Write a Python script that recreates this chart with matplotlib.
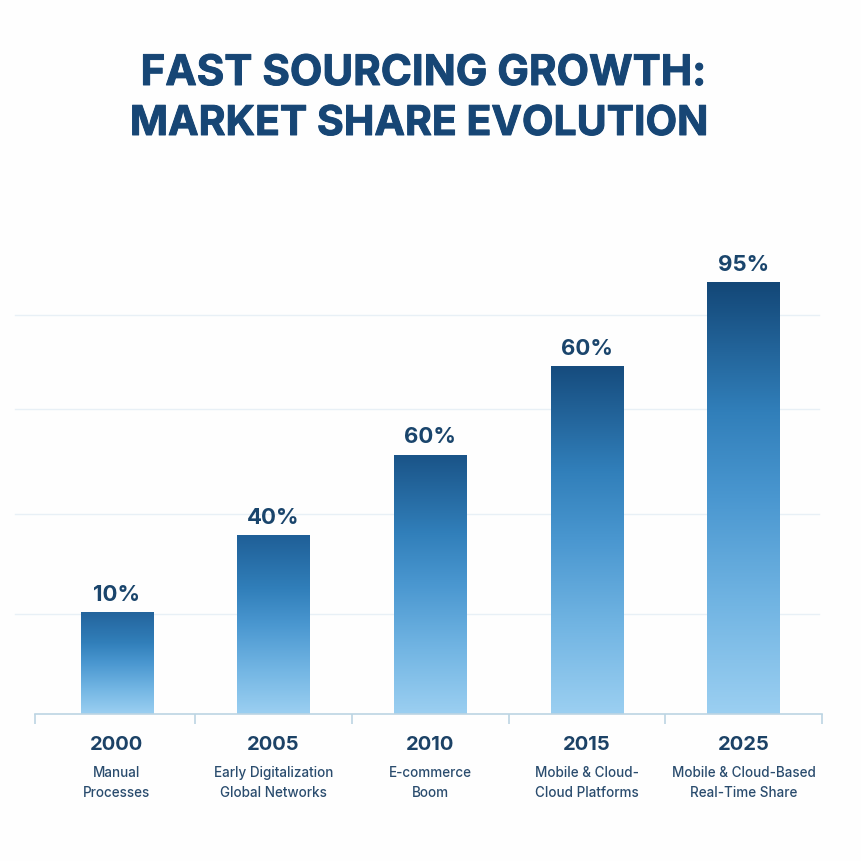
import matplotlib
matplotlib.use('Agg')
import matplotlib.pyplot as plt
import matplotlib.patheffects as pe
import numpy as np
from matplotlib.colors import LinearSegmentedColormap

plt.rcParams['font.family'] = ['Inter', 'DejaVu Sans']

years = ['2000', '2005', '2010', '2015', '2025']
share_labels = ['10%', '40%', '60%', '60%', '95%']
# drawn height of the bars, they do not follow the printed percentages
bar_heights = [22.2, 39.3, 56.9, 76.4, 94.8]
captions = ['Manual\nProcesses', 'Early Digitalization\nGlobal Networks', 'E-commerce\nBoom',
            'Mobile & Cloud-\nCloud Platforms', 'Mobile & Cloud-Based\nReal-Time Share']
top_colors = ['#24649c', '#1f5f97', '#1a5488', '#164c7e', '#134777']
grid_values = [22.0, 44.0, 67.0, 87.7]
separators = [-0.52, 0.5, 1.5, 2.5, 3.5, 4.5]

title_lines = ['FAST SOURCING GROWTH:', 'MARKET SHARE EVOLUTION']

fig = plt.figure(figsize=(8.62, 8.62), dpi=100, facecolor='#fefefe')
ax = fig.add_axes([35/862, (862-715)/862, 787/862, 455/862])
ax.set_facecolor('none')

x = np.arange(len(years))
width = 0.462

for val in grid_values:
    ax.plot([-0.65, 4.48], [val, val], color='#e8f0f6', lw=1, zorder=1, clip_on=False)

# vertical gradient for each bar
for xi, h, top, lab in zip(x, bar_heights, top_colors, share_labels):
    stops = [(0, '#9bcff1'), (0.25, '#72b5e3'), (0.5, '#4a97d0'), (0.7, '#317fba'), (1, top)]
    cmap = LinearSegmentedColormap.from_list('bar', stops, N=256)
    grad = np.linspace(1, 0, 256).reshape(-1, 1)
    ax.imshow(grad, extent=[xi-width/2, xi+width/2, 0, h], aspect='auto', cmap=cmap, vmin=0, vmax=1, zorder=2)
    ax.text(xi, h+1.9, lab, ha='center', va='bottom', fontsize=16, fontweight='bold', color='#1a456c')

ax.set_xlim(-0.523, 4.498)
ax.set_ylim(0, 100)
ax.set_yticks([])
ax.set_xticks(separators)
ax.set_xticklabels([])
ax.tick_params(axis='x', length=7.2, width=1.2, color='#bcd5e3')
for side in ['top', 'left', 'right']:
    ax.spines[side].set_visible(False)
ax.spines['bottom'].set_color('#bcd5e3')
ax.spines['bottom'].set_linewidth(1.2)

trans = ax.get_xaxis_transform()
for xi, year, cap in zip(x, years, captions):
    ax.annotate(year, (xi, 0), xytext=(0, -21.5), xycoords=trans, textcoords='offset points', ha='center', va='center',
                fontsize=14.5, fontweight='bold', color='#1c4266')
    ax.annotate(cap, (xi, 0), xytext=(0, -48.8), xycoords=trans, textcoords='offset points', ha='center', va='center',
                fontsize=9.7, fontweight='medium', color='#2a4c6e', linespacing=1.5)

# slight stroke because the title is heavier than Inter Bold
heavy = [pe.withStroke(linewidth=0.7, foreground='#174675')]
fig.text(423/862, 1-75/862, title_lines[0], ha='center', va='center', fontsize=30.3, fontweight='bold',
         color='#174675', path_effects=heavy)
fig.text(419.5/862, 1-125/862, title_lines[1], ha='center', va='center', fontsize=29.5, fontweight='bold',
         color='#174675', path_effects=heavy)

fig.savefig('out.png', dpi=100, facecolor=fig.get_facecolor())
